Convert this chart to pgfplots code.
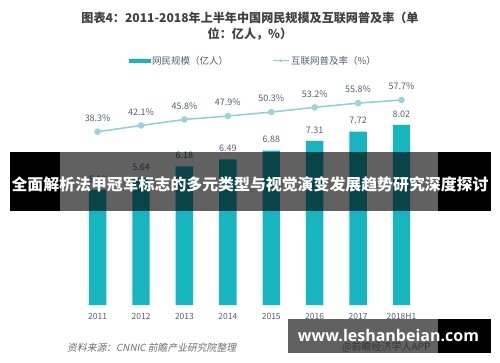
\documentclass[border=0pt]{standalone}
\usepackage{fontspec}
\setmainfont{Noto Sans CJK SC}
\newfontfamily\cjkit{Noto Sans CJK SC}[FakeSlant=0.2]
\newfontfamily\webfont{Open Sans}
\usepackage{pgfplots}
\pgfplotsset{compat=1.18}
\definecolor{barteal}{RGB}{22,181,191}
\definecolor{lineteal}{RGB}{140,208,212}
\definecolor{markteal}{RGB}{150,214,218}
\definecolor{titlegray}{RGB}{64,64,64}
\definecolor{txtgray}{RGB}{84,96,116}
\definecolor{srcgray}{RGB}{110,110,110}
\begin{document}
\begin{tikzpicture}
\path[use as bounding box] (0,0) rectangle (500pt,362pt);
\fill[white] (0,0) rectangle (500pt,362pt);
% title
\node[font=\fontsize{12.1}{14}\selectfont\bfseries, text=titlegray] at (250pt,344pt) {图表4：2011-2018年上半年中国网民规模及互联网普及率（单};
\node[font=\fontsize{12.1}{14}\selectfont\bfseries, text=titlegray] at (250pt,328pt) {位：亿人，\%）};
% legend
\fill[barteal] (129pt,299.3pt) rectangle (151pt,303.3pt);
\node[anchor=west, inner sep=0pt, font=\fontsize{9.5}{11}\selectfont, text=txtgray] at (152pt,301.3pt) {网民规模（亿人）};
\draw[lineteal, line width=1.4pt] (273pt,301.3pt) -- (289pt,301.3pt);
\fill[markteal] (281pt,301.3pt) circle (1.6pt);
\node[anchor=west, inner sep=0pt, font=\fontsize{9.5}{11}\selectfont, text=txtgray] at (291pt,301.3pt) {互联网普及率（\%）};
% bars
\begin{axis}[
  at={(71.6pt,57pt)}, anchor=south west, scale only axis,
  width=355.9pt, height=202pt,
  xmin=-0.6, xmax=7.6, ymin=0, ymax=9,
  hide y axis, axis x line*=bottom, x axis line style={draw=none},
  major tick length=0pt,
  xtick={0,1,2,3,4,5,6,7},
  xticklabels={2011,2012,2013,2014,2015,2016,2017,2018H1},
  xticklabel style={anchor=center, yshift=-11.7pt, font=\fontsize{8.5}{10}\selectfont, text=txtgray},
  /pgf/number format/assume math mode=true,
  clip=false,
]
\addplot[ybar, bar width=17.4pt, bar shift=0pt, fill=barteal, draw=none,
  nodes near coords={\pgfmathprintnumber[fixed,fixed zerofill,precision=2,assume math mode=true]{\pgfplotspointmeta}},
  nodes near coords style={anchor=center, yshift=11pt, font=\fontsize{9}{10}\selectfont, text=txtgray}]
  coordinates {(0,5.13) (1,5.64) (2,6.18) (3,6.49) (4,6.88) (5,7.31) (6,7.72) (7,8.02)};
\end{axis}
% line
\begin{axis}[
  at={(71.6pt,57pt)}, anchor=south west, scale only axis,
  width=355.9pt, height=202pt,
  xmin=-0.6, xmax=7.6, ymin=-67.75, ymax=55.87,
  hide axis, clip=false,
  /pgf/number format/assume math mode=true,
]
\addplot[lineteal, line width=1.5pt, mark=*, mark size=2.5pt,
  mark options={fill=markteal, draw=markteal},
  nodes near coords={\pgfmathprintnumber[fixed,fixed zerofill,precision=1,assume math mode=true]{\pgfplotspointmeta}\%},
  nodes near coords style={anchor=center, yshift=13.5pt, font=\fontsize{9}{10}\selectfont, text=txtgray}]
  coordinates {(0,38.3) (1,42.1) (2,45.8) (3,47.9) (4,50.3) (5,53.2) (6,55.8) (7,57.7)};
\end{axis}
% source
\node[anchor=west, inner sep=0pt, font=\fontsize{9.8}{11}\cjkit, text=srcgray] at (67pt,14pt) {资料来源：CNNIC 前瞻产业研究院整理};
\node[anchor=west, inner sep=0pt, font=\fontsize{10}{11}\selectfont, text=black!45] at (342pt,15pt) {@前瞻经济学人APP};
% banner overlay
\fill[black, opacity=0.62] (60pt,151.3pt) rectangle (437.7pt,210pt);
\fill[black] (10pt,151.3pt) rectangle (60pt,210pt);
\fill[black] (437.7pt,151.3pt) rectangle (491pt,210pt);
\node[font=\fontsize{15.9}{17}\selectfont\bfseries, text=white, inner sep=0pt] at (250pt,177.5pt) {全面解析法甲冠军标志的多元类型与视觉演变发展趋势研究深度探讨};
% bottom box
\fill[black, opacity=0.62] (288.3pt,9.3pt) rectangle (437.7pt,43pt);
\fill[black] (437.7pt,9.3pt) rectangle (491pt,43pt);
\node[text=white, inner sep=0pt] at (388.5pt,26pt) {\resizebox{181pt}{!}{\webfont\bfseries www.leshanbeian.com}};
\end{tikzpicture}
\end{document}
